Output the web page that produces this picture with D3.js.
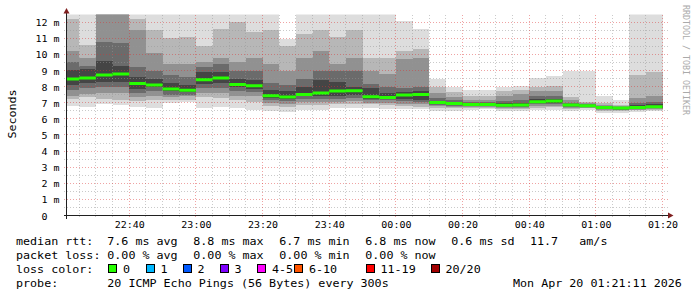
<!DOCTYPE html>
<html>
<head>
<meta charset="utf-8">
<script src="https://cdn.jsdelivr.net/npm/d3@7"></script>
<style>
  body { margin: 0; background: #fff; }
  text { font-family: "DejaVu Sans Mono", monospace; }
</style>
</head>
<body>
<script>
// 5 minute steps, each value covers the 5 minutes ending at this time
var stepEnds = ["22:25","22:30","22:35","22:40","22:45","22:50","22:55","23:00","23:05","23:10","23:15","23:20",
                "23:25","23:30","23:35","23:40","23:45","23:50","23:55","00:00","00:05","00:10","00:15","00:20",
                "00:25","00:30","00:35","00:40","00:45","00:50","00:55","01:00","01:05","01:10","01:15","01:20"];

// median rtt in ms
var median = [8.47,8.53,8.72,8.78,8.2,8.1,7.85,7.77,8.43,8.53,8.14,8.06,
              7.44,7.36,7.52,7.6,7.73,7.75,7.38,7.32,7.48,7.52,7.01,6.95,
              6.89,6.89,6.85,6.86,7.07,7.11,6.86,6.82,6.7,6.67,6.7,6.76];

// sorted ping ranks (of 20) used for the smoke bands, ms
var ping1  = [6.8,6.75,6.95,6.85,6.75,6.7,7.0,7.05,6.7,6.75,6.65,6.55,6.5,6.45,6.55,6.55,6.65,6.65,
              6.65,6.6,6.6,6.6,6.5,6.5,6.55,6.6,6.5,6.5,6.55,6.55,6.5,6.55,6.38,6.38,6.45,6.5];
var ping3  = [7.25,7.35,7.25,7.15,7.1,7.15,7.2,7.2,7.35,7.3,7.15,7.05,6.8,6.75,6.85,6.85,6.9,6.9,
              6.9,6.85,6.8,6.75,6.7,6.65,6.65,6.68,6.62,6.62,6.7,6.72,6.62,6.65,6.5,6.48,6.52,6.58];
var ping5  = [7.4,7.55,7.6,7.6,7.35,7.4,7.35,7.4,7.6,7.6,7.45,7.4,7.0,6.95,7.05,7.05,7.05,7.1,
              7.0,7.0,6.95,6.9,6.8,6.75,6.72,6.74,6.7,6.7,6.8,6.82,6.7,6.7,6.56,6.54,6.58,6.62];
var ping7  = [7.8,7.9,7.95,7.95,7.6,7.7,7.5,7.5,7.9,7.9,7.7,7.65,7.2,7.1,7.25,7.25,7.25,7.3,
              7.15,7.15,7.1,7.05,6.88,6.82,6.78,6.8,6.76,6.76,6.9,6.92,6.76,6.74,6.6,6.58,6.62,6.66];
var ping9  = [8.1,8.25,8.3,8.3,7.85,7.95,7.7,7.65,8.15,8.2,7.95,7.85,7.3,7.25,7.4,7.4,7.45,7.5,
              7.25,7.25,7.25,7.2,6.93,6.88,6.83,6.84,6.8,6.8,6.98,7.0,6.8,6.78,6.64,6.62,6.66,6.7];
var ping12 = [9.05,9.1,9.6,9.3,8.6,8.5,8.2,8.1,8.9,8.9,8.5,8.4,7.8,7.7,7.95,8.4,8.3,8.0,
              7.9,7.6,7.65,7.7,7.12,7.02,6.95,6.96,6.98,7.0,7.22,7.25,6.92,6.88,6.75,6.72,6.84,6.9];
var ping14 = [9.5,9.3,10.8,10.7,9.2,9.0,8.7,8.6,9.2,9.4,9.0,9.0,8.2,8.1,8.5,9.0,9.0,9.0,
              8.15,7.95,7.9,8.0,7.3,7.15,7.05,7.05,7.1,7.2,7.4,7.45,7.0,6.92,6.78,6.75,7.0,7.05];
var ping16 = [10.2,9.75,12.6,12.6,11.5,10.1,9.4,9.4,9.5,9.8,9.5,9.8,9.4,9.0,9.8,10.2,9.4,9.8,
              9.0,8.8,9.7,9.8,7.6,7.35,7.2,7.2,7.4,7.55,7.7,7.75,7.15,6.98,6.84,6.8,7.3,7.4];
var ping18 = [12.2,10.6,12.7,12.7,12.2,11.5,11.0,11.1,10.5,11.6,12.0,11.4,11.5,10.5,11.3,11.5,11.1,11.5,
              9.8,9.8,10.2,10.35,7.95,7.65,7.4,7.45,7.75,7.8,8.0,8.05,7.35,7.05,6.98,6.88,8.7,8.9];
var ping20 = [12.6,12.6,12.8,12.8,12.5,12.5,12.6,12.6,12.6,12.6,12.6,12.6,12.6,10.95,12.6,12.5,12.6,12.6,
              12.6,12.6,12.05,11.6,8.5,8.0,7.78,7.78,7.95,8.02,8.55,8.65,8.95,8.95,7.4,7.15,12.6,12.6];

var yTicks = [0,1,2,3,4,5,6,7,8,9,10,11,12];

var rttStats  = ["7.6 ms avg", "8.8 ms max", "6.7 ms min", "6.8 ms now", "0.6 ms sd"];
var lossStats = ["0.00 % avg", "0.00 % max", "0.00 % min", "0.00 % now"];
var lossLabels = ["0", "1", "2", "3", "4-5", "6-10", "11-19", "20/20"];
var lossColors = ["#26ff00", "#00b8ff", "#0059ff", "#7e00ff", "#ff00ff", "#ff5500", "#ff0000", "#a10000"];

var W = 697, H = 297;
var pL = 66.5, pR = 666.5, pT = 14.5, pB = 215.5;

var svg = d3.select("body").append("svg")
    .attr("width", W)
    .attr("height", H);

function toTime(s) {
  var h = +s.slice(0, 2), m = +s.slice(3, 5);
  var day = h < 12 ? 20 : 19;
  return new Date(Date.UTC(2026, 3, day, h, m, 0));
}

var tStart = new Date(Date.UTC(2026, 3, 19, 22, 21, 11)),
    tEnd = new Date(Date.UTC(2026, 3, 20, 1, 21, 11));

var x = d3.scaleUtc().domain([tStart, tEnd]).range([pL, pR]);
var y = d3.scaleLinear().domain([0, 12.48]).range([pB, pT]);

svg.append("clipPath").attr("id", "plot")
  .append("rect")
    .attr("x", pL + 0.5).attr("y", pT)
    .attr("width", pR - pL).attr("height", pB - pT);

var steps = stepEnds.map(function (s, i) {
  var e = toTime(s);
  return { start: new Date(e.getTime() - 300000), end: e, i: i };
});

// smoke, outer bands light, inner bands dark
var bands = [
  [ping1, ping20, "#dddddd"],
  [ping3, ping18, "#b7b7b7"],
  [ping5, ping16, "#919191"],
  [ping7, ping14, "#6b6b6b"],
  [ping9, ping12, "#454545"]
];

var smoke = svg.append("g").attr("clip-path", "url(#plot)");
bands.forEach(function (b) {
  smoke.selectAll(null)
    .data(steps)
    .enter()
    .append("rect")
    .attr("x", function (d) { return x(d.start); })
    .attr("width", function (d) { return x(d.end) - x(d.start); })
    .attr("y", function (d) { return y(b[1][d.i]); })
    .attr("height", function (d) { return y(b[0][d.i]) - y(b[1][d.i]); })
    .attr("fill", b[2])
    .attr("shape-rendering", "crispEdges");
});

// grid
var grid = svg.append("g").attr("shape-rendering", "crispEdges");
var minorY = d3.range(0.5, 12.5, 0.5).filter(function (v) { return v % 1 !== 0; });
var majorY = yTicks.filter(function (v) { return v > 0; });
var minorX = d3.utcMinute.every(5).range(tStart, tEnd).filter(function (t) { return t.getUTCMinutes() % 20 !== 0; });
var majorX = d3.utcMinute.every(20).range(tStart, tEnd);
var minorCol = "rgba(150,150,150,0.5)", majorCol = "rgba(220,50,50,0.45)";

grid.selectAll(".hmin").data(minorY).enter().append("line")
    .attr("x1", pL - 3).attr("x2", pR + 1.5)
    .attr("y1", function (d) { return y(d); }).attr("y2", function (d) { return y(d); })
    .attr("stroke", minorCol).attr("stroke-dasharray", "1,2");
grid.selectAll(".vmin").data(minorX).enter().append("line")
    .attr("y1", pT).attr("y2", pB + 3)
    .attr("x1", function (d) { return x(d); }).attr("x2", function (d) { return x(d); })
    .attr("stroke", minorCol).attr("stroke-dasharray", "1,2");
grid.selectAll(".hmaj").data(majorY).enter().append("line")
    .attr("x1", pL - 3).attr("x2", pR + 1.5)
    .attr("y1", function (d) { return y(d); }).attr("y2", function (d) { return y(d); })
    .attr("stroke", majorCol).attr("stroke-dasharray", "1,2");
grid.selectAll(".vmaj").data(majorX).enter().append("line")
    .attr("y1", pT).attr("y2", pB + 3)
    .attr("x1", function (d) { return x(d); }).attr("x2", function (d) { return x(d); })
    .attr("stroke", majorCol).attr("stroke-dasharray", "1,2");

// median rtt, coloured by loss (all 0 here)
svg.append("g").attr("clip-path", "url(#plot)")
  .selectAll("line")
  .data(steps)
  .enter()
  .append("line")
    .attr("x1", function (d) { return x(d.start); })
    .attr("x2", function (d) { return x(d.end); })
    .attr("y1", function (d) { return y(median[d.i]); })
    .attr("y2", function (d) { return y(median[d.i]); })
    .attr("stroke", lossColors[0])
    .attr("stroke-width", 3);

// axes
var yAxis = svg.append("g")
    .attr("transform", "translate(" + pL + ",0)")
    .call(d3.axisLeft(y).tickValues(yTicks).tickSize(0).tickPadding(7)
      .tickFormat(function (d) { return d === 0 ? "0\u00a0\u00a0" : d + " m"; }));
yAxis.select(".domain").remove();
yAxis.selectAll("text")
    .attr("font-family", "DejaVu Sans Mono")
    .attr("font-size", "10px")
    .attr("fill", "#000")
    .attr("dy", null)
    .attr("y", 0)
    .attr("transform", "translate(0,3.5) scale(1,0.86)");

var xAxis = svg.append("g")
    .attr("transform", "translate(0," + pB + ")")
    .call(d3.axisBottom(x).tickValues(majorX).tickSize(0).tickPadding(0)
      .tickFormat(d3.utcFormat("%H:%M")));
xAxis.select(".domain").remove();
xAxis.selectAll("text")
    .attr("font-family", "DejaVu Sans Mono")
    .attr("font-size", "10px")
    .attr("fill", "#000")
    .attr("dy", null)
    .attr("y", 0)
    .attr("transform", "translate(0,12) scale(1,0.86)");

svg.append("line")
    .attr("x1", pL).attr("x2", pL).attr("y1", pB + 3).attr("y2", 12)
    .attr("stroke", "#202020").attr("shape-rendering", "crispEdges");
svg.append("line")
    .attr("x1", pL - 3).attr("x2", 668).attr("y1", pB).attr("y2", pB)
    .attr("stroke", "#202020").attr("shape-rendering", "crispEdges");
svg.append("path").attr("d", "M63.5,13.5L69.5,13.5L66.5,8Z").attr("fill", "#7f1f1f");
svg.append("path").attr("d", "M668,212.5L668,218.5L673.5,215.5Z").attr("fill", "#7f1f1f");

// titles
svg.append("text")
    .attr("transform", "translate(15.5,114) rotate(-90) scale(1,0.85)")
    .attr("text-anchor", "middle")
    .attr("font-size", "11.7px")
    .text("Seconds");
svg.append("text")
    .attr("transform", "translate(683,5) rotate(90)")
    .attr("font-size", "8.3px")
    .attr("fill", "#aaaaaa")
    .text("RRDTOOL / TOBI OETIKER");

// legend
function label(px, py, s) {
  svg.append("text")
    .attr("transform", "translate(" + px + "," + py + ") scale(1,0.85)")
    .attr("font-size", "11.7px")
    .attr("fill", "#000")
    .text(s);
}
var rows = [244.5, 258.8, 272.7, 287];
var statX = [107.3, 193.3, 279.3, 365.3, 451.3];

label(16, rows[0], "median rtt:");
rttStats.forEach(function (s, i) { label(statX[i], rows[0], s); });
label(530, rows[0], "11.7");
label(579.3, rows[0], "am/s");

label(16, rows[1], "packet loss:");
lossStats.forEach(function (s, i) { label(statX[i], rows[1], s); });

label(16, rows[2], "loss color:");
var boxX = [108, 145.5, 182.5, 219.5, 257, 294, 365.5, 430.5];
lossLabels.forEach(function (s, i) {
  svg.append("rect")
    .attr("x", boxX[i] + 0.5).attr("y", 264.5)
    .attr("width", 8).attr("height", 8)
    .attr("fill", lossColors[i])
    .attr("stroke", "#000")
    .attr("shape-rendering", "crispEdges");
  label(boxX[i] + 15, rows[2], s);
});

label(16, rows[3], "probe:");
label(107.3, rows[3], "20 ICMP Echo Pings (56 Bytes) every 300s");
label(513, rows[3], "Mon Apr 20 01:21:11 2026");
</script>
</body>
</html>
